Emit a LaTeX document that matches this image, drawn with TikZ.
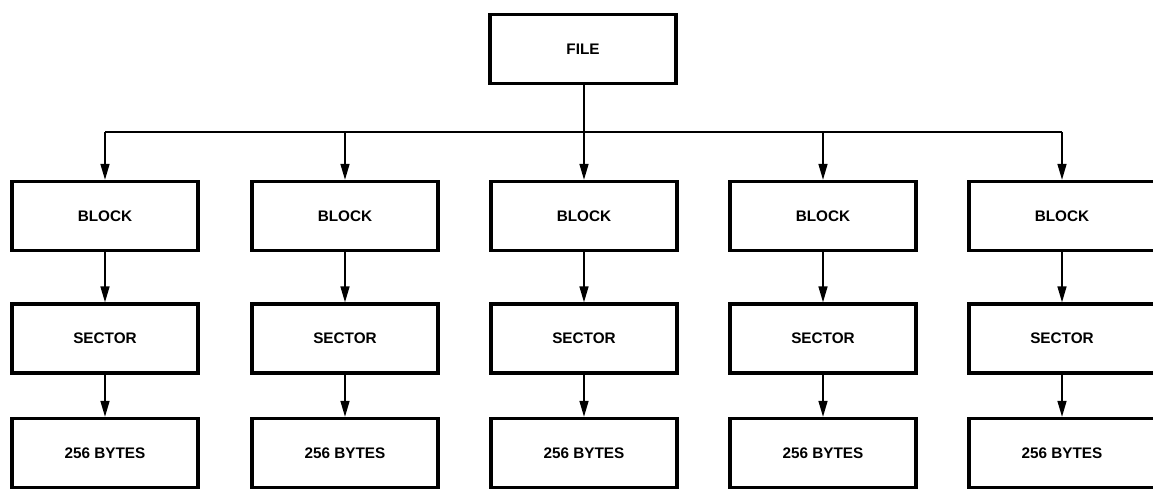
\documentclass[tikz,border=0pt]{standalone}
\usepackage{fontspec}
\setmainfont{Liberation Sans}
\usetikzlibrary{arrows.meta}
\tikzset{
  boxnode/.style={draw=black, line width=3.4pt, minimum width=186pt, minimum height=69pt, inner sep=0pt, font=\fontsize{15.3}{18}\selectfont\bfseries},
  conn/.style={draw=black, line width=1.6pt},
  arr/.style={conn, -{Triangle[length=16pt,width=9pt]}}
}
\begin{document}
\begin{tikzpicture}[x=1pt,y=-1pt]
\useasboundingbox[fill=white] (0,0) rectangle (1153,492);
\node[boxnode] (f) at (583,49) {FILE};
\foreach \i/\x in {1/105,2/345,3/584,4/823,5/1062}{
  \node[boxnode] (b\i) at (\x,216) {BLOCK};
  \node[boxnode] (s\i) at (\x,338.5) {SECTOR};
  \node[boxnode] (y\i) at (\x,453) {256 BYTES};
  \draw[arr] (b\i) -- (s\i);
  \draw[arr] (s\i) -- (y\i);
}
\coordinate (busL) at (105,132);
\coordinate (busR) at (1062,132);
\draw[conn] (busL) -- (busR);
\draw[arr] (f.south -| b3.north) -- (b3.north);
\foreach \i in {1,2,4,5}{
  \draw[arr] (b\i.north |- busL) -- (b\i.north);
}
\end{tikzpicture}
\end{document}
